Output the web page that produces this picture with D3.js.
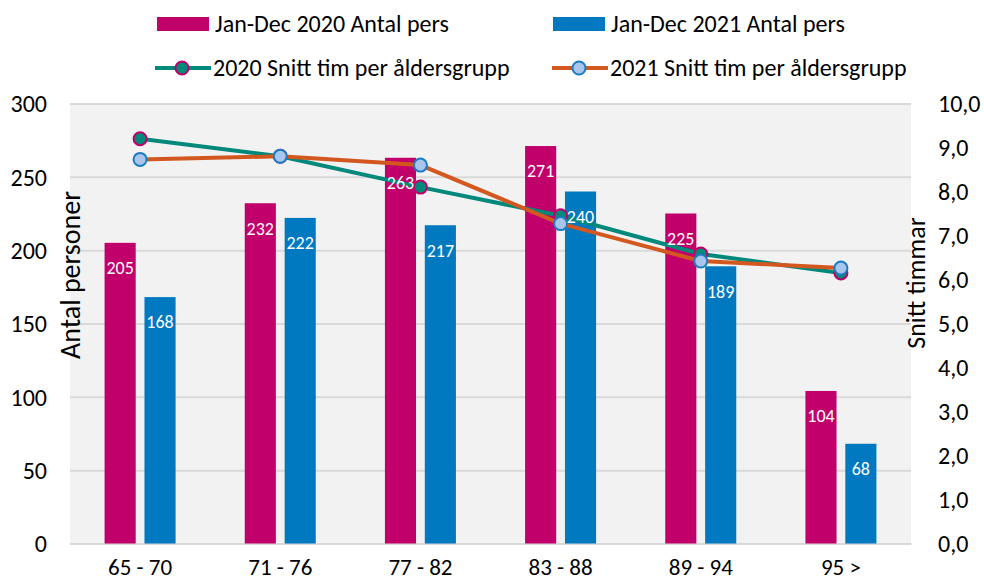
<!DOCTYPE html>
<html>
<head>
<meta charset="utf-8">
<script src="https://cdn.jsdelivr.net/npm/d3@7"></script>
<style>
  body { margin: 0; background: #fff; }
  svg text { font-family: Carlito, "Liberation Sans Narrow", "Open Sans", sans-serif; fill: #000; }
  .lbl { fill: #fff; font-size: 18px; }
</style>
</head>
<body>
<svg id="chart" width="984" height="583"></svg>
<script>
// categories and values
var ages = ["65 - 70", "71 - 76", "77 - 82", "83 - 88", "89 - 94", "95 >"];
var pers2020 = [205, 232, 263, 271, 225, 104];
var pers2021 = [168, 222, 217, 240, 189, 68];
var snitt2020 = [9.2, 8.8, 8.1, 7.45, 6.58, 6.15];
var snitt2021 = [8.73, 8.8, 8.6, 7.27, 6.42, 6.26];
var leftTicks = [0, 50, 100, 150, 200, 250, 300];
var rightTicks = [0, 1, 2, 3, 4, 5, 6, 7, 8, 9, 10];

var pink = "#c2006b", blue = "#0079c1", teal = "#00897a", orange = "#d3581f";

var svg = d3.select("#chart");
var plotL = 70, plotR = 911, plotT = 103.5, plotB = 543.5;

var x0 = d3.scaleBand().domain(ages).range([plotL, plotR]);
var x1 = d3.scaleBand().domain(["2020", "2021"]).range([0, 71]).paddingInner(0.22);
var yL = d3.scaleLinear().domain([0, 300]).range([plotB, plotT]);
var yR = d3.scaleLinear().domain([0, 10]).range([plotB, plotT]);

var cx = function(i) { return x0(ages[i]) + x0.bandwidth() / 2; };
var bx = function(key, i) { return cx(i) - 35.5 + x1(key); };

// plot background
svg.append("rect")
  .attr("x", plotL).attr("y", plotT - 0.5)
  .attr("width", plotR - plotL).attr("height", plotB - plotT + 2)
  .attr("fill", "#f2f2f2");

// gridlines + left ticks
var gl = svg.append("g").attr("transform", "translate(" + plotL + ",0)")
  .call(d3.axisLeft(yL).tickValues(leftTicks).tickSize(-(plotR - plotL)).tickPadding(23));
gl.select(".domain").remove();
gl.selectAll(".tick line").attr("stroke", "#d9d9d9").attr("stroke-width", 2);
gl.selectAll(".tick text").attr("font-size", "24px").attr("dy", "0.35em");

var gr = svg.append("g").attr("transform", "translate(" + plotR + ",0)")
  .call(d3.axisRight(yR).tickValues(rightTicks).tickSize(0).tickPadding(27)
    .tickFormat(function(d) { return d.toFixed(1).replace(".", ","); }));
gr.select(".domain").remove();
gr.selectAll(".tick text").attr("font-size", "24px").attr("dy", "0.35em");

// x axis labels
var gx = svg.append("g").attr("transform", "translate(0," + plotB + ")")
  .call(d3.axisBottom(x0).tickSize(0).tickPadding(15));
gx.select(".domain").attr("stroke", "#d9d9d9").attr("stroke-width", 2);
gx.selectAll(".tick text").attr("font-size", "23px");

// bars
var groups = [
  { key: "2020", vals: pers2020, color: pink },
  { key: "2021", vals: pers2021, color: blue }
];
groups.forEach(function(g) {
  svg.append("g").selectAll("rect").data(g.vals).join("rect")
    .attr("x", function(d, i) { return bx(g.key, i); })
    .attr("y", function(d) { return yL(d); })
    .attr("width", x1.bandwidth())
    .attr("height", function(d) { return yL(0) - yL(d); })
    .attr("fill", g.color);
});

// lines with markers
var lineSeries = [
  { vals: snitt2020, color: teal, mfill: teal, mstroke: pink },
  { vals: snitt2021, color: orange, mfill: "#a9c5eb", mstroke: "#1a7dc4" }
];
lineSeries.forEach(function(s) {
  var line = d3.line().x(function(d, i) { return cx(i); }).y(function(d) { return yR(d); });
  svg.append("path").datum(s.vals)
    .attr("d", line).attr("fill", "none")
    .attr("stroke", s.color).attr("stroke-width", 4).attr("stroke-linejoin", "round");
  svg.append("g").selectAll("circle").data(s.vals).join("circle")
    .attr("cx", function(d, i) { return cx(i); })
    .attr("cy", function(d) { return yR(d); })
    .attr("r", 6.5)
    .attr("fill", s.mfill).attr("stroke", s.mstroke).attr("stroke-width", 2);
});

// data labels inside bars
groups.forEach(function(g) {
  svg.append("g").selectAll("text").data(g.vals).join("text")
    .attr("class", "lbl")
    .attr("x", function(d, i) { return bx(g.key, i) + x1.bandwidth() / 2; })
    .attr("y", function(d) { return yL(d) + 25; })
    .attr("dy", "0.35em")
    .attr("text-anchor", "middle")
    .text(function(d) { return d; });
});

// axis titles
svg.append("text")
  .attr("transform", "translate(80,275) rotate(-90)")
  .attr("text-anchor", "middle").attr("font-size", "28px")
  .text("Antal personer");
svg.append("text")
  .attr("transform", "translate(925,283) rotate(-90)")
  .attr("text-anchor", "middle").attr("font-size", "26px")
  .text("Snitt timmar");

// legend
var legend = svg.append("g").attr("font-size", "24px");
var legItems = [
  { x: 157, y: 24, type: "bar", color: pink, text: "Jan-Dec 2020 Antal pers" },
  { x: 553, y: 24, type: "bar", color: blue, text: "Jan-Dec 2021 Antal pers" },
  { x: 155, y: 68, type: "line", color: teal, mfill: teal, mstroke: pink, text: "2020 Snitt tim per åldersgrupp" },
  { x: 552, y: 68, type: "line", color: orange, mfill: "#a9c5eb", mstroke: "#1a7dc4", text: "2021 Snitt tim per åldersgrupp" }
];
legItems.forEach(function(it) {
  if (it.type === "bar") {
    legend.append("rect").attr("x", it.x).attr("y", it.y - 7).attr("width", 52).attr("height", 14).attr("fill", it.color);
  } else {
    legend.append("line").attr("x1", it.x).attr("x2", it.x + 56).attr("y1", it.y).attr("y2", it.y)
      .attr("stroke", it.color).attr("stroke-width", 4);
    legend.append("circle").attr("cx", it.x + 27).attr("cy", it.y).attr("r", 6.5)
      .attr("fill", it.mfill).attr("stroke", it.mstroke).attr("stroke-width", 2);
  }
  legend.append("text").attr("x", it.x + 58).attr("y", it.y).attr("dy", "0.35em").text(it.text);
});
</script>
</body>
</html>
